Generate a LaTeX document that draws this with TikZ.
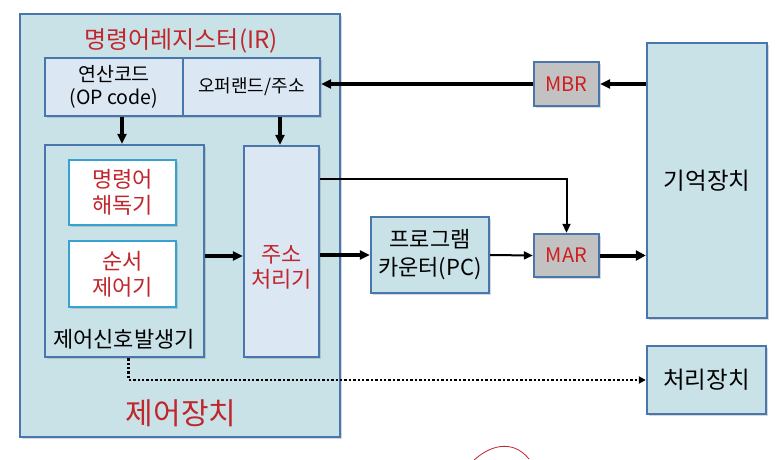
\documentclass[tikz,border=0pt]{standalone}
\usepackage{fontspec}
\setmainfont{Noto Sans CJK KR}
\usetikzlibrary{arrows.meta,shadows,calc}
\definecolor{bord}{HTML}{4A76AE}
\definecolor{teal}{HTML}{C9E2E8}
\definecolor{pale}{HTML}{DCE7F4}
\definecolor{grayb}{HTML}{C2C2C2}
\definecolor{cyanb}{HTML}{35A2D2}
\definecolor{redt}{HTML}{C0262C}
\definecolor{redr}{HTML}{D01E1E}
\tikzset{
  box/.style={draw=bord, line width=2.4pt, rectangle, inner sep=0pt, align=center,
     font=\fontsize{22}{27}\selectfont,
     drop shadow={opacity=0.3, shadow xshift=1.8pt, shadow yshift=-1.8pt}},
  tealbox/.style={box, fill=teal},
  palebox/.style={box, fill=pale},
  graybox/.style={box, fill=grayb, text=redr, font=\fontsize{20}{24}\selectfont},
  whitebox/.style={box, draw=cyanb, fill=white, text=redt, line width=2pt, font=\fontsize{22}{26}\selectfont},
  arr/.style={line width=3.2pt, -{Triangle[length=10pt,width=9pt]}},
  thickarr/.style={line width=4pt, -{Triangle[length=10pt,width=10pt]}},
  thinarr/.style={line width=2pt, -{Triangle[length=9pt,width=8pt]}},
  dotarr/.style={line width=2.4pt, dotted, -{Triangle[length=7pt,width=7pt]}},
}
\begin{document}
\begin{tikzpicture}[x=1pt,y=-1pt]
\useasboundingbox[fill=white] (0,0) rectangle (782,460);
% control unit
\node[tealbox, minimum width=320pt, minimum height=423pt] (ctrl) at (180,225.5) {};
\node[text=redt, font=\fontsize{24}{28}\selectfont] (irt) at (181,41) {명령어레지스터(IR)};
\node[palebox, minimum width=138pt, minimum height=58pt, font=\fontsize{19.5}{23}\selectfont] (opcode) at (114,87) {연산코드\\(OP code)};
\node[palebox, minimum width=137pt, minimum height=58pt, font=\fontsize{18}{22}\selectfont] (operand) at (251.5,87) {오퍼랜드/주소};
\node[tealbox, minimum width=159pt, minimum height=212pt] (gen) at (124.5,251) {};
\node[whitebox, minimum width=107pt, minimum height=65pt] (dec) at (122.5,192.5) {명령어\\해독기};
\node[whitebox, minimum width=107pt, minimum height=66pt] (seq) at (122.5,274) {순서\\제어기};
\node[font=\fontsize{22}{26}\selectfont] (genl) at (124,339) {제어신호발생기};
\node[palebox, minimum width=75pt, minimum height=211pt] (addr) at (281.5,251.5) {};
\node[text=redt, align=center, font=\fontsize{22}{25}\selectfont] (addrl) at (281.5,267) {주소\\처리기};
\node[text=redt, font=\fontsize{30}{34}\selectfont] (ctrll) at (181,413) {제어장치};
% right side
\node[graybox, minimum width=65pt, minimum height=44pt] (mbr) at (566.5,84) {MBR};
\node[graybox, minimum width=65pt, minimum height=43pt] (mar) at (566.5,255.5) {MAR};
\node[tealbox, minimum width=120pt, minimum height=275pt, font=\fontsize{23.5}{28}\selectfont] (mem) at (707,180.5) {기억장치};
\node[tealbox, minimum width=118pt, minimum height=76pt, font=\fontsize{22}{28}\selectfont] (pc) at (430,255) {프로그램\\카운터(PC)};
\node[tealbox, minimum width=119pt, minimum height=68pt, font=\fontsize{23.5}{28}\selectfont] (cpu) at (706.5,380) {처리장치};
% connectors
\draw[arr] (mem.west |- mbr.center) -- (mbr.east);
\draw[arr] (mbr.west) -- (mbr.west -| operand.east);
\draw[arr] (opcode.south -| 122,0) -- (gen.north -| 122,0);
\draw[arr] (operand.south -| 280,0) -- (addr.north -| 280,0);
\draw[arr] (gen.east |- 0,256) -- (addr.west |- 0,256);
\draw[arr] (addr.east |- pc.west) -- (pc.west);
\draw[thinarr] (pc.east) -- (mar.west);
\draw[thickarr] (mar.east) -- (mar.east -| mem.west);
\coordinate (tap) at ($(addr.north east)+(0,34)$);
\draw[thinarr] (tap) -| (mar.north);
\coordinate (dstart) at ($(gen.south)+(4,0)$);
\draw[dotarr] (dstart) |- (cpu.west);
% red pen stroke
\draw[redt, line width=0.8pt] (472,462) .. controls (488,446) and (512,438) .. (529,459);
\end{tikzpicture}
\end{document}
